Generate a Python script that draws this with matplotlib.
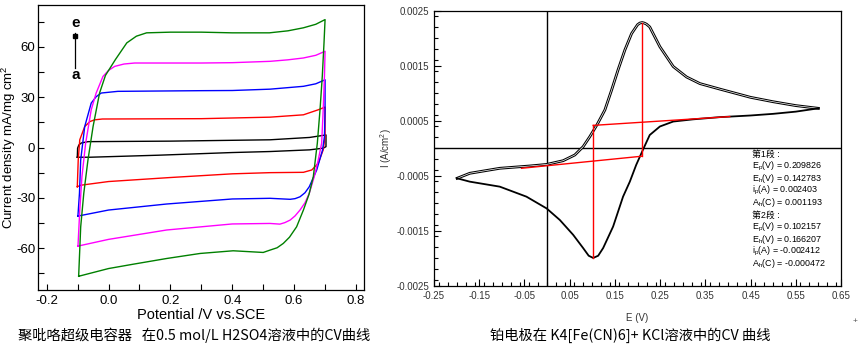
import matplotlib
matplotlib.use("Agg")
import matplotlib.pyplot as plt
from matplotlib.ticker import MultipleLocator, FixedLocator, FuncFormatter

plt.rcParams["font.family"] = ["Liberation Sans", "Noto Sans CJK SC", "DejaVu Sans"]
plt.rcParams["axes.unicode_minus"] = False
plt.rcParams["mathtext.fontset"] = "custom"
plt.rcParams["mathtext.rm"] = "Liberation Sans"
plt.rcParams["mathtext.it"] = "Liberation Sans:italic"

# ---- left panel: polypyrrole CV loops (potential V, current density mA/mg cm2) ----
a_x = [-0.101, -0.1, -0.096, -0.088, -0.066, 0.2, 0.522, 0.65, 0.703,
       0.703, 0.694, 0.65, 0.522, 0.4, 0.16, -0.06, -0.101]
a_y = [-5.8, -0.4, 1.5, 2.7, 3.5, 3.8, 4.6, 6.0, 7.5,
       0.5, -0.4, -1.4, -2.4, -3.0, -4.6, -5.8, -5.8]

b_x = [-0.101, -0.098, -0.093, -0.077, -0.06, -0.045, -0.02, 0.3, 0.522, 0.63, 0.678, 0.7,
       0.7, 0.694, 0.678, 0.657, 0.63, 0.522, 0.4, 0.2, 0.0, -0.09, -0.101]
b_y = [-23.4, -7.4, 4.6, 12.5, 15.5, 16.5, 17, 17.2, 18.1, 19.5, 22.5, 24.1,
       6.5, -1.4, -9.4, -13.4, -14.8, -15, -15.7, -17.9, -20.3, -22.5, -23.4]

c_x = [-0.099, -0.094, -0.09, -0.077, -0.056, -0.04, -0.0235, 0.03, 0.3, 0.4, 0.522, 0.63, 0.67, 0.7,
       0.7, 0.698, 0.692, 0.673, 0.649, 0.635, 0.619, 0.603, 0.587, 0.522, 0.4, 0.188, 0.0, -0.099]
c_y = [-40.9, -27.3, -7.4, 12.5, 26.5, 30.3, 32.5, 33.5, 33.9, 34, 34.8, 36.5, 38, 40.4,
       22.5, 6.5, -1.4, -13.4, -23.4, -27, -29.4, -30.5, -30.9, -30.3, -30.7, -33.7, -37.3, -40.9]

d_x = [-0.0988, -0.093, -0.086, -0.074, -0.056, -0.04, -0.018, 0.0, 0.02, 0.05, 0.0845, 0.3, 0.4,
       0.522, 0.58, 0.63, 0.67, 0.7,
       0.698, 0.694, 0.689, 0.678, 0.665, 0.649, 0.635, 0.619, 0.603, 0.587, 0.57, 0.554, 0.522,
       0.4, 0.188, 0.0, -0.0988]
d_y = [-58.8, -37.3, -17.4, 2.6, 22.5, 32.5, 42.4, 46, 48.4, 49.8, 50.4, 50.4, 50.6,
       51.4, 52.3, 53.4, 55, 57.4,
       42.4, 22.5, 2.6, -7.4, -17.4, -27.3, -33, -37.3, -40.8, -43.3, -44.8, -45.7, -45.3,
       -45.6, -49.2, -54.8, -58.8]

e_x = [-0.0966, -0.09, -0.08, -0.0665, -0.05, -0.029, -0.01, 0.022, 0.059, 0.09, 0.123, 0.2, 0.3,
       0.4, 0.52, 0.58, 0.63, 0.67, 0.7,
       0.6966, 0.691, 0.6837, 0.675, 0.662, 0.648, 0.63, 0.608, 0.585, 0.565, 0.545, 0.522, 0.5,
       0.403, 0.296, 0.188, 0.08, 0.0, -0.0966]
e_y = [-76.8, -47.3, -27.3, -7.4, 12.5, 32.5, 43, 52.4, 62.4, 66.4, 68.4, 68.8, 68.8,
       68.4, 68.4, 69.6, 71.4, 73.5, 76.3,
       62.4, 42.4, 22.5, 2.6, -17.4, -28, -37.3, -47.3, -53.5, -57.2, -59.8, -61.2, -62.6,
       -61.6, -63.2, -66.2, -69.6, -72.2, -76.8]

loops = [(a_x, a_y, "black"), (b_x, b_y, "red"), (c_x, c_y, "blue"),
         (d_x, d_y, "magenta"), (e_x, e_y, "green")]

# ---- right panel: Pt electrode in ferrocyanide (E V, I A/cm2) ----
fwd_E = [-0.199, -0.171, -0.1046, -0.0382, -0.001, 0.0355, 0.0613, 0.0797, 0.0945, 0.111, 0.1278,
         0.1426, 0.157, 0.172, 0.1869, 0.2, 0.205, 0.2103, 0.215, 0.22, 0.227, 0.2495, 0.279,
         0.3085, 0.338, 0.382, 0.45, 0.5, 0.55, 0.6]
fwd_I = [-0.000542, -0.000451, -0.00036, -0.000318, -0.00029, -0.000222, -0.000118, 0.0000327,
         0.000215, 0.00044, 0.0007, 0.00106, 0.00143, 0.00179, 0.00209, 0.00225, 0.00228, 0.00229,
         0.00228, 0.00226, 0.00221, 0.00185, 0.00149, 0.0013, 0.00118, 0.00108, 0.00093, 0.00085,
         0.00078, 0.00073]
rev_E = [0.6, 0.55, 0.5, 0.45, 0.382, 0.323, 0.279, 0.2495, 0.227, 0.2125, 0.197, 0.183, 0.168,
         0.146, 0.124, 0.113, 0.1019, 0.092, 0.0797, 0.0577, 0.0282, -0.001, -0.0456, -0.1046,
         -0.171, -0.199]
rev_I = [0.00073, 0.00067, 0.00063, 0.0006, 0.00057, 0.00053, 0.00049, 0.0004, 0.000245, -0.0000145,
         -0.0003, -0.000603, -0.000876, -0.00142, -0.00181, -0.00195, -0.00199, -0.00195, -0.00181,
         -0.00157, -0.0013, -0.00109, -0.000876, -0.000694, -0.000603, -0.000542]

base1_E = [-0.0566, 0.2103]
base1_I = [-0.00036, -0.00014]
peak1_I = [-0.00014, 0.00229]
base2_E = [0.1019, 0.404]
base2_I = [0.00042, 0.00058]
peak2_I = [0.00042, -0.00199]

info_lines = ["第1段 :", r"E$_\mathregular{p}$(V) = 0.209826", r"E$_\mathregular{h}$(V) = 0.142783",
              r"i$_\mathregular{p}$(A) = 0.002403", r"A$_\mathregular{h}$(C) = 0.001193",
              "第2段 :", r"E$_\mathregular{p}$(V) = 0.102157", r"E$_\mathregular{h}$(V) = 0.166207",
              r"i$_\mathregular{p}$(A) = -0.002412", r"A$_\mathregular{h}$(C) = -0.000472"]

fig = plt.figure(figsize=(8.6, 3.5), dpi=100)

# left chart
ax1 = fig.add_axes([0.0442, 0.1714, 0.3791, 0.8143])
for xs, ys, col in loops:
    ax1.plot(xs, ys, color=col, lw=1.0)
ax1.set_xlim(-0.228, 0.826)
ax1.set_ylim(-85, 85)
ax1.xaxis.set_major_locator(MultipleLocator(0.2))
ax1.xaxis.set_minor_locator(MultipleLocator(0.1))
ax1.yaxis.set_major_locator(MultipleLocator(30))
ax1.yaxis.set_minor_locator(MultipleLocator(15))
ax1.xaxis.set_major_formatter(FuncFormatter(lambda v, p: f"{v:.1f}"))
ax1.tick_params(which="both", direction="in", top=False, right=False, length=4, width=0.8,
                labelsize=9.5)
ax1.tick_params(axis="y", pad=2)
ax1.set_xlabel("Potential /V vs.SCE", fontsize=10.5, labelpad=1)
ax1.set_ylabel(r"Current density mA/mg cm$^\mathregular{2}$", fontsize=9.5, va="center")
ax1.yaxis.set_label_coords(-0.09, 0.5)
ax1.plot([-0.107, -0.107], [47.5, 68.5], color="black", lw=0.9)
ax1.plot([-0.107], [66.4], marker="s", ms=3, color="black")
ax1.text(-0.105, 74.5, "e", ha="center", va="center", fontsize=11, fontweight="bold")
ax1.text(-0.107, 43, "a", ha="center", va="center", fontsize=11, fontweight="bold")
for s in ax1.spines.values():
    s.set_linewidth(0.9)

# right chart
ax2 = fig.add_axes([0.5047, 0.1829, 0.4732, 0.7857])
ax2.axvline(0, color="black", lw=1.0)
ax2.axhline(0, color="black", lw=1.0)
ax2.plot(fwd_E, fwd_I, color="black", lw=2.0)
ax2.plot(fwd_E, fwd_I, color="white", lw=0.5)
ax2.plot(rev_E, rev_I, color="black", lw=1.3)
ax2.plot(base1_E, base1_I, color="red", lw=1.0)
ax2.plot([base1_E[1], base1_E[1]], peak1_I, color="red", lw=1.0)
ax2.plot(base2_E, base2_I, color="red", lw=1.0)
ax2.plot([base2_E[0], base2_E[0]], peak2_I, color="red", lw=1.0)
ax2.set_xlim(-0.25, 0.65)
ax2.set_ylim(-0.0025, 0.0025)
ax2.xaxis.set_major_locator(FixedLocator([-0.25, -0.15, -0.05, 0.05, 0.15, 0.25, 0.35, 0.45, 0.55, 0.65]))
ax2.xaxis.set_minor_locator(MultipleLocator(0.02))
ax2.yaxis.set_major_locator(FixedLocator([-0.0025, -0.0015, -0.0005, 0.0005, 0.0015, 0.0025]))
ax2.yaxis.set_minor_locator(MultipleLocator(0.0002))
ax2.xaxis.set_major_formatter(FuncFormatter(lambda v, p: f"{v:.2f}"))
ax2.yaxis.set_major_formatter(FuncFormatter(lambda v, p: f"{v:.4f}"))
ax2.tick_params(which="major", direction="in", length=5, width=0.8, labelsize=7, colors="black",
                labelcolor="#333333")
ax2.tick_params(which="minor", direction="in", length=3, width=0.8)
ax2.tick_params(top=False, right=False, which="both")
ax2.set_xlabel("E (V)", fontsize=7, labelpad=9, color="#333333")
ax2.set_ylabel(r"I (A/cm$^\mathregular{2}$)", fontsize=7, color="#333333", va="center")
ax2.yaxis.set_label_coords(-0.118, 0.5)
for k, line in enumerate(info_lines):
    ax2.text(0.453, -0.0001 - k * 0.000222, line, fontsize=6.4, ha="left", va="center",
             family=["Liberation Sans", "Noto Sans CJK SC"])
for s in ax2.spines.values():
    s.set_linewidth(0.9)

# captions
fig.text(0.021, 0.043, "聚吡咯超级电容器   在0.5 mol/L H2SO4溶液中的CV曲线", fontsize=10.3,
         ha="left", va="center", family=["Noto Sans CJK SC", "DejaVu Sans"])
fig.text(0.7325, 0.043, "铂电极在 K4[Fe(CN)6]+ KCl溶液中的CV 曲线", fontsize=10.3,
         ha="center", va="center", family=["Noto Sans CJK SC", "DejaVu Sans"])
fig.text(0.994, 0.08, "+", fontsize=6, color="#555555", ha="center", va="center")

fig.savefig("out.png", dpi=100)
